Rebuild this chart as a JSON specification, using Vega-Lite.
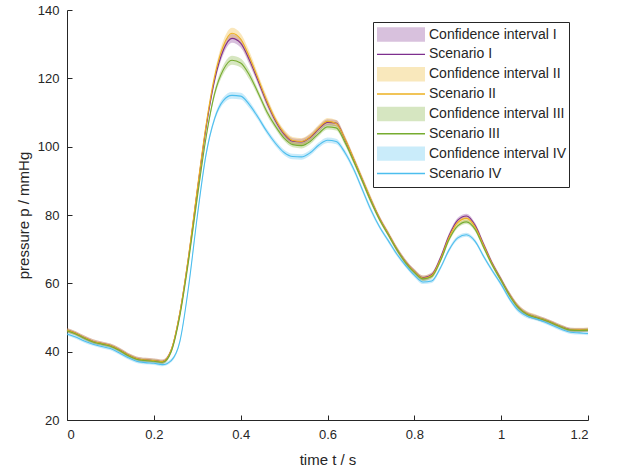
{
  "$schema": "https://vega.github.io/schema/vega-lite/v6.json",
  "width": 521,
  "height": 410,
  "autosize": {"type": "none"},
  "padding": {"left": 67, "top": 10, "right": 30, "bottom": 54},
  "background": "white",
  "datasets": {
    "names": [
      {"s": "I", "ci": "Confidence interval I", "sc": "Scenario I"},
      {"s": "II", "ci": "Confidence interval II", "sc": "Scenario II"},
      {"s": "III", "ci": "Confidence interval III", "sc": "Scenario III"},
      {"s": "IV", "ci": "Confidence interval IV", "sc": "Scenario IV"}
    ]
  },
  "data": {"values": [
{"s":"I","t":0,"p":46.3,"lo":45.7,"hi":46.9},
{"s":"I","t":0.02,"p":45.4,"lo":44.8,"hi":46.0},
{"s":"I","t":0.04,"p":44.1,"lo":43.5,"hi":44.7},
{"s":"I","t":0.06,"p":43.0,"lo":42.4,"hi":43.6},
{"s":"I","t":0.08,"p":42.4,"lo":41.8,"hi":43.0},
{"s":"I","t":0.10,"p":41.8,"lo":41.2,"hi":42.4},
{"s":"I","t":0.12,"p":40.6,"lo":40.0,"hi":41.2},
{"s":"I","t":0.14,"p":39.1,"lo":38.5,"hi":39.7},
{"s":"I","t":0.16,"p":38.0,"lo":37.4,"hi":38.6},
{"s":"I","t":0.18,"p":37.6,"lo":37.0,"hi":38.2},
{"s":"I","t":0.20,"p":37.4,"lo":36.8,"hi":38.0},
{"s":"I","t":0.22,"p":37.1,"lo":36.5,"hi":37.7},
{"s":"I","t":0.24,"p":40.4,"lo":39.8,"hi":41.0},
{"s":"I","t":0.26,"p":51.3,"lo":50.6,"hi":52.0},
{"s":"I","t":0.28,"p":67.7,"lo":67.0,"hi":68.4},
{"s":"I","t":0.30,"p":87.0,"lo":86.1,"hi":87.9},
{"s":"I","t":0.32,"p":105.3,"lo":104.4,"hi":106.2},
{"s":"I","t":0.34,"p":119.5,"lo":118.4,"hi":120.6},
{"s":"I","t":0.36,"p":128.2,"lo":126.9,"hi":129.5},
{"s":"I","t":0.38,"p":131.7,"lo":130.4,"hi":133.0},
{"s":"I","t":0.40,"p":130.3,"lo":129.0,"hi":131.6},
{"s":"I","t":0.42,"p":125.4,"lo":124.1,"hi":126.7},
{"s":"I","t":0.44,"p":119.3,"lo":118.2,"hi":120.4},
{"s":"I","t":0.46,"p":113.0,"lo":111.9,"hi":114.1},
{"s":"I","t":0.48,"p":107.6,"lo":106.7,"hi":108.5},
{"s":"I","t":0.50,"p":103.7,"lo":102.8,"hi":104.6},
{"s":"I","t":0.52,"p":101.6,"lo":100.7,"hi":102.5},
{"s":"I","t":0.54,"p":101.4,"lo":100.5,"hi":102.3},
{"s":"I","t":0.56,"p":102.7,"lo":101.8,"hi":103.6},
{"s":"I","t":0.58,"p":105.2,"lo":104.3,"hi":106.1},
{"s":"I","t":0.60,"p":107.1,"lo":106.2,"hi":108.0},
{"s":"I","t":0.62,"p":106.9,"lo":106.0,"hi":107.8},
{"s":"I","t":0.64,"p":102.2,"lo":101.3,"hi":103.1},
{"s":"I","t":0.66,"p":96.4,"lo":95.5,"hi":97.3},
{"s":"I","t":0.68,"p":90.4,"lo":89.5,"hi":91.3},
{"s":"I","t":0.70,"p":84.4,"lo":83.5,"hi":85.3},
{"s":"I","t":0.72,"p":79.0,"lo":78.3,"hi":79.7},
{"s":"I","t":0.74,"p":74.5,"lo":73.8,"hi":75.2},
{"s":"I","t":0.76,"p":70.0,"lo":69.3,"hi":70.7},
{"s":"I","t":0.78,"p":66.3,"lo":65.6,"hi":67.0},
{"s":"I","t":0.80,"p":63.5,"lo":62.8,"hi":64.2},
{"s":"I","t":0.82,"p":61.6,"lo":60.9,"hi":62.3},
{"s":"I","t":0.84,"p":62.5,"lo":61.8,"hi":63.2},
{"s":"I","t":0.86,"p":67.4,"lo":66.7,"hi":68.1},
{"s":"I","t":0.88,"p":74.0,"lo":73.3,"hi":74.7},
{"s":"I","t":0.90,"p":78.5,"lo":77.8,"hi":79.2},
{"s":"I","t":0.92,"p":79.7,"lo":79.0,"hi":80.4},
{"s":"I","t":0.94,"p":77.0,"lo":76.3,"hi":77.7},
{"s":"I","t":0.96,"p":71.3,"lo":70.6,"hi":72.0},
{"s":"I","t":0.98,"p":65.7,"lo":65.0,"hi":66.4},
{"s":"I","t":1.00,"p":61.1,"lo":60.4,"hi":61.8},
{"s":"I","t":1.02,"p":56.6,"lo":55.9,"hi":57.3},
{"s":"I","t":1.04,"p":53.0,"lo":52.3,"hi":53.7},
{"s":"I","t":1.06,"p":51.0,"lo":50.3,"hi":51.7},
{"s":"I","t":1.08,"p":50.1,"lo":49.4,"hi":50.8},
{"s":"I","t":1.10,"p":49.3,"lo":48.7,"hi":49.9},
{"s":"I","t":1.12,"p":48.3,"lo":47.7,"hi":48.9},
{"s":"I","t":1.14,"p":47.2,"lo":46.6,"hi":47.8},
{"s":"I","t":1.16,"p":46.4,"lo":45.8,"hi":47.0},
{"s":"I","t":1.18,"p":46.3,"lo":45.7,"hi":46.9},
{"s":"I","t":1.20,"p":46.4,"lo":45.8,"hi":47.0},
{"s":"II","t":0,"p":46.3,"lo":45.7,"hi":46.9},
{"s":"II","t":0.02,"p":45.4,"lo":44.8,"hi":46.0},
{"s":"II","t":0.04,"p":44.1,"lo":43.5,"hi":44.7},
{"s":"II","t":0.06,"p":43.0,"lo":42.4,"hi":43.6},
{"s":"II","t":0.08,"p":42.4,"lo":41.8,"hi":43.0},
{"s":"II","t":0.10,"p":41.8,"lo":41.2,"hi":42.4},
{"s":"II","t":0.12,"p":40.6,"lo":40.0,"hi":41.2},
{"s":"II","t":0.14,"p":39.1,"lo":38.5,"hi":39.7},
{"s":"II","t":0.16,"p":38.0,"lo":37.4,"hi":38.6},
{"s":"II","t":0.18,"p":37.6,"lo":37.0,"hi":38.2},
{"s":"II","t":0.20,"p":37.4,"lo":36.8,"hi":38.0},
{"s":"II","t":0.22,"p":37.1,"lo":36.5,"hi":37.7},
{"s":"II","t":0.24,"p":40.5,"lo":39.9,"hi":41.1},
{"s":"II","t":0.26,"p":51.5,"lo":50.7,"hi":52.3},
{"s":"II","t":0.28,"p":68.0,"lo":67.2,"hi":68.8},
{"s":"II","t":0.30,"p":87.5,"lo":86.5,"hi":88.5},
{"s":"II","t":0.32,"p":106.0,"lo":105.0,"hi":107.0},
{"s":"II","t":0.34,"p":120.5,"lo":119.2,"hi":121.8},
{"s":"II","t":0.36,"p":129.5,"lo":127.9,"hi":131.1},
{"s":"II","t":0.38,"p":133.2,"lo":131.6,"hi":134.8},
{"s":"II","t":0.40,"p":131.5,"lo":129.9,"hi":133.1},
{"s":"II","t":0.42,"p":126.3,"lo":124.7,"hi":127.9},
{"s":"II","t":0.44,"p":120.0,"lo":118.7,"hi":121.3},
{"s":"II","t":0.46,"p":113.5,"lo":112.2,"hi":114.8},
{"s":"II","t":0.48,"p":108.0,"lo":107.0,"hi":109.0},
{"s":"II","t":0.50,"p":104.0,"lo":103.0,"hi":105.0},
{"s":"II","t":0.52,"p":101.8,"lo":100.8,"hi":102.8},
{"s":"II","t":0.54,"p":101.5,"lo":100.5,"hi":102.5},
{"s":"II","t":0.56,"p":102.9,"lo":101.9,"hi":103.9},
{"s":"II","t":0.58,"p":105.5,"lo":104.5,"hi":106.5},
{"s":"II","t":0.60,"p":107.4,"lo":106.4,"hi":108.4},
{"s":"II","t":0.62,"p":106.8,"lo":105.8,"hi":107.8},
{"s":"II","t":0.64,"p":102.3,"lo":101.3,"hi":103.3},
{"s":"II","t":0.66,"p":96.5,"lo":95.5,"hi":97.5},
{"s":"II","t":0.68,"p":90.5,"lo":89.5,"hi":91.5},
{"s":"II","t":0.70,"p":84.5,"lo":83.5,"hi":85.5},
{"s":"II","t":0.72,"p":79.0,"lo":78.2,"hi":79.8},
{"s":"II","t":0.74,"p":74.5,"lo":73.7,"hi":75.3},
{"s":"II","t":0.76,"p":70.0,"lo":69.2,"hi":70.8},
{"s":"II","t":0.78,"p":66.2,"lo":65.4,"hi":67.0},
{"s":"II","t":0.80,"p":63.4,"lo":62.6,"hi":64.2},
{"s":"II","t":0.82,"p":61.5,"lo":60.7,"hi":62.3},
{"s":"II","t":0.84,"p":62.3,"lo":61.5,"hi":63.1},
{"s":"II","t":0.86,"p":67.0,"lo":66.2,"hi":67.8},
{"s":"II","t":0.88,"p":73.5,"lo":72.7,"hi":74.3},
{"s":"II","t":0.90,"p":77.8,"lo":77.0,"hi":78.6},
{"s":"II","t":0.92,"p":79.0,"lo":78.2,"hi":79.8},
{"s":"II","t":0.94,"p":76.5,"lo":75.7,"hi":77.3},
{"s":"II","t":0.96,"p":71.0,"lo":70.2,"hi":71.8},
{"s":"II","t":0.98,"p":65.5,"lo":64.7,"hi":66.3},
{"s":"II","t":1.00,"p":61.0,"lo":60.2,"hi":61.8},
{"s":"II","t":1.02,"p":56.5,"lo":55.7,"hi":57.3},
{"s":"II","t":1.04,"p":53.0,"lo":52.2,"hi":53.8},
{"s":"II","t":1.06,"p":51.0,"lo":50.2,"hi":51.8},
{"s":"II","t":1.08,"p":50.1,"lo":49.3,"hi":50.9},
{"s":"II","t":1.10,"p":49.3,"lo":48.7,"hi":49.9},
{"s":"II","t":1.12,"p":48.3,"lo":47.7,"hi":48.9},
{"s":"II","t":1.14,"p":47.2,"lo":46.6,"hi":47.8},
{"s":"II","t":1.16,"p":46.4,"lo":45.8,"hi":47.0},
{"s":"II","t":1.18,"p":46.4,"lo":45.8,"hi":47.0},
{"s":"II","t":1.20,"p":46.5,"lo":45.9,"hi":47.1},
{"s":"III","t":0,"p":46.1,"lo":45.6,"hi":46.6},
{"s":"III","t":0.02,"p":45.2,"lo":44.7,"hi":45.7},
{"s":"III","t":0.04,"p":43.9,"lo":43.4,"hi":44.4},
{"s":"III","t":0.06,"p":42.8,"lo":42.3,"hi":43.3},
{"s":"III","t":0.08,"p":42.2,"lo":41.7,"hi":42.7},
{"s":"III","t":0.10,"p":41.6,"lo":41.1,"hi":42.1},
{"s":"III","t":0.12,"p":40.4,"lo":39.9,"hi":40.9},
{"s":"III","t":0.14,"p":38.9,"lo":38.4,"hi":39.4},
{"s":"III","t":0.16,"p":37.8,"lo":37.3,"hi":38.3},
{"s":"III","t":0.18,"p":37.4,"lo":36.9,"hi":37.9},
{"s":"III","t":0.20,"p":37.2,"lo":36.7,"hi":37.7},
{"s":"III","t":0.22,"p":36.9,"lo":36.4,"hi":37.4},
{"s":"III","t":0.24,"p":40.0,"lo":39.5,"hi":40.5},
{"s":"III","t":0.26,"p":50.5,"lo":49.9,"hi":51.1},
{"s":"III","t":0.28,"p":66.5,"lo":65.9,"hi":67.1},
{"s":"III","t":0.30,"p":85.0,"lo":84.2,"hi":85.8},
{"s":"III","t":0.32,"p":102.5,"lo":101.7,"hi":103.3},
{"s":"III","t":0.34,"p":115.5,"lo":114.5,"hi":116.5},
{"s":"III","t":0.36,"p":122.5,"lo":121.2,"hi":123.8},
{"s":"III","t":0.38,"p":125.3,"lo":124.0,"hi":126.6},
{"s":"III","t":0.40,"p":124.5,"lo":123.2,"hi":125.8},
{"s":"III","t":0.42,"p":121.0,"lo":119.7,"hi":122.3},
{"s":"III","t":0.44,"p":115.8,"lo":114.8,"hi":116.8},
{"s":"III","t":0.46,"p":110.3,"lo":109.3,"hi":111.3},
{"s":"III","t":0.48,"p":106.0,"lo":105.2,"hi":106.8},
{"s":"III","t":0.50,"p":102.5,"lo":101.7,"hi":103.3},
{"s":"III","t":0.52,"p":100.6,"lo":99.8,"hi":101.4},
{"s":"III","t":0.54,"p":100.3,"lo":99.5,"hi":101.1},
{"s":"III","t":0.56,"p":101.5,"lo":100.7,"hi":102.3},
{"s":"III","t":0.58,"p":103.9,"lo":103.1,"hi":104.7},
{"s":"III","t":0.60,"p":105.8,"lo":105.0,"hi":106.6},
{"s":"III","t":0.62,"p":105.5,"lo":104.7,"hi":106.3},
{"s":"III","t":0.64,"p":101.3,"lo":100.5,"hi":102.1},
{"s":"III","t":0.66,"p":95.8,"lo":95.0,"hi":96.6},
{"s":"III","t":0.68,"p":90.0,"lo":89.2,"hi":90.8},
{"s":"III","t":0.70,"p":84.0,"lo":83.2,"hi":84.8},
{"s":"III","t":0.72,"p":78.6,"lo":78.0,"hi":79.2},
{"s":"III","t":0.74,"p":74.2,"lo":73.6,"hi":74.8},
{"s":"III","t":0.76,"p":69.8,"lo":69.2,"hi":70.4},
{"s":"III","t":0.78,"p":66.0,"lo":65.4,"hi":66.6},
{"s":"III","t":0.80,"p":63.2,"lo":62.6,"hi":63.8},
{"s":"III","t":0.82,"p":61.3,"lo":60.7,"hi":61.9},
{"s":"III","t":0.84,"p":62.0,"lo":61.4,"hi":62.6},
{"s":"III","t":0.86,"p":66.5,"lo":65.9,"hi":67.1},
{"s":"III","t":0.88,"p":72.8,"lo":72.2,"hi":73.4},
{"s":"III","t":0.90,"p":76.8,"lo":76.2,"hi":77.4},
{"s":"III","t":0.92,"p":78.0,"lo":77.4,"hi":78.6},
{"s":"III","t":0.94,"p":75.8,"lo":75.2,"hi":76.4},
{"s":"III","t":0.96,"p":70.4,"lo":69.8,"hi":71.0},
{"s":"III","t":0.98,"p":65.2,"lo":64.6,"hi":65.8},
{"s":"III","t":1.00,"p":60.8,"lo":60.2,"hi":61.4},
{"s":"III","t":1.02,"p":56.3,"lo":55.7,"hi":56.9},
{"s":"III","t":1.04,"p":52.8,"lo":52.2,"hi":53.4},
{"s":"III","t":1.06,"p":50.9,"lo":50.3,"hi":51.5},
{"s":"III","t":1.08,"p":50.0,"lo":49.4,"hi":50.6},
{"s":"III","t":1.10,"p":49.2,"lo":48.7,"hi":49.7},
{"s":"III","t":1.12,"p":48.2,"lo":47.7,"hi":48.7},
{"s":"III","t":1.14,"p":47.1,"lo":46.6,"hi":47.6},
{"s":"III","t":1.16,"p":46.3,"lo":45.8,"hi":46.8},
{"s":"III","t":1.18,"p":46.2,"lo":45.7,"hi":46.7},
{"s":"III","t":1.20,"p":46.3,"lo":45.8,"hi":46.8},
{"s":"IV","t":0,"p":45.2,"lo":44.7,"hi":45.7},
{"s":"IV","t":0.02,"p":44.3,"lo":43.8,"hi":44.8},
{"s":"IV","t":0.04,"p":43.1,"lo":42.6,"hi":43.6},
{"s":"IV","t":0.06,"p":42.2,"lo":41.7,"hi":42.7},
{"s":"IV","t":0.08,"p":41.5,"lo":41.0,"hi":42.0},
{"s":"IV","t":0.10,"p":40.9,"lo":40.4,"hi":41.4},
{"s":"IV","t":0.12,"p":39.7,"lo":39.2,"hi":40.2},
{"s":"IV","t":0.14,"p":38.3,"lo":37.8,"hi":38.8},
{"s":"IV","t":0.16,"p":37.2,"lo":36.7,"hi":37.7},
{"s":"IV","t":0.18,"p":36.8,"lo":36.3,"hi":37.3},
{"s":"IV","t":0.20,"p":36.6,"lo":36.1,"hi":37.1},
{"s":"IV","t":0.22,"p":36.2,"lo":35.7,"hi":36.7},
{"s":"IV","t":0.24,"p":37.4,"lo":36.9,"hi":37.9},
{"s":"IV","t":0.26,"p":43.0,"lo":42.5,"hi":43.5},
{"s":"IV","t":0.28,"p":59.0,"lo":58.4,"hi":59.6},
{"s":"IV","t":0.30,"p":79.5,"lo":78.9,"hi":80.1},
{"s":"IV","t":0.32,"p":97.5,"lo":96.7,"hi":98.3},
{"s":"IV","t":0.34,"p":108.2,"lo":107.4,"hi":109.0},
{"s":"IV","t":0.36,"p":113.5,"lo":112.5,"hi":114.5},
{"s":"IV","t":0.38,"p":115.0,"lo":114.0,"hi":116.0},
{"s":"IV","t":0.40,"p":114.8,"lo":113.8,"hi":115.8},
{"s":"IV","t":0.42,"p":112.3,"lo":111.3,"hi":113.3},
{"s":"IV","t":0.44,"p":108.6,"lo":107.8,"hi":109.4},
{"s":"IV","t":0.46,"p":104.5,"lo":103.7,"hi":105.3},
{"s":"IV","t":0.48,"p":101.0,"lo":100.2,"hi":101.8},
{"s":"IV","t":0.50,"p":98.3,"lo":97.5,"hi":99.1},
{"s":"IV","t":0.52,"p":97.1,"lo":96.3,"hi":97.9},
{"s":"IV","t":0.54,"p":97.0,"lo":96.2,"hi":97.8},
{"s":"IV","t":0.56,"p":98.2,"lo":97.4,"hi":99.0},
{"s":"IV","t":0.58,"p":100.5,"lo":99.7,"hi":101.3},
{"s":"IV","t":0.60,"p":101.9,"lo":101.1,"hi":102.7},
{"s":"IV","t":0.62,"p":101.5,"lo":100.7,"hi":102.3},
{"s":"IV","t":0.64,"p":98.3,"lo":97.5,"hi":99.1},
{"s":"IV","t":0.66,"p":93.5,"lo":92.7,"hi":94.3},
{"s":"IV","t":0.68,"p":87.5,"lo":86.7,"hi":88.3},
{"s":"IV","t":0.70,"p":81.5,"lo":80.7,"hi":82.3},
{"s":"IV","t":0.72,"p":76.5,"lo":75.9,"hi":77.1},
{"s":"IV","t":0.74,"p":72.5,"lo":71.9,"hi":73.1},
{"s":"IV","t":0.76,"p":68.5,"lo":67.9,"hi":69.1},
{"s":"IV","t":0.78,"p":65.2,"lo":64.6,"hi":65.8},
{"s":"IV","t":0.80,"p":62.4,"lo":61.8,"hi":63.0},
{"s":"IV","t":0.82,"p":60.4,"lo":59.8,"hi":61.0},
{"s":"IV","t":0.84,"p":60.7,"lo":60.1,"hi":61.3},
{"s":"IV","t":0.86,"p":64.5,"lo":63.9,"hi":65.1},
{"s":"IV","t":0.88,"p":69.8,"lo":69.2,"hi":70.4},
{"s":"IV","t":0.90,"p":73.3,"lo":72.7,"hi":73.9},
{"s":"IV","t":0.92,"p":74.2,"lo":73.6,"hi":74.8},
{"s":"IV","t":0.94,"p":72.3,"lo":71.7,"hi":72.9},
{"s":"IV","t":0.96,"p":67.8,"lo":67.2,"hi":68.4},
{"s":"IV","t":0.98,"p":63.6,"lo":63.0,"hi":64.2},
{"s":"IV","t":1.00,"p":59.7,"lo":59.1,"hi":60.3},
{"s":"IV","t":1.02,"p":55.3,"lo":54.7,"hi":55.9},
{"s":"IV","t":1.04,"p":52.0,"lo":51.4,"hi":52.6},
{"s":"IV","t":1.06,"p":50.4,"lo":49.8,"hi":51.0},
{"s":"IV","t":1.08,"p":49.6,"lo":49.1,"hi":50.1},
{"s":"IV","t":1.10,"p":48.7,"lo":48.2,"hi":49.2},
{"s":"IV","t":1.12,"p":47.6,"lo":47.1,"hi":48.1},
{"s":"IV","t":1.14,"p":46.5,"lo":46.0,"hi":47.0},
{"s":"IV","t":1.16,"p":45.7,"lo":45.2,"hi":46.2},
{"s":"IV","t":1.18,"p":45.5,"lo":45.0,"hi":46.0},
{"s":"IV","t":1.20,"p":45.3,"lo":44.8,"hi":45.8}
  ]},
  "transform": [
    {"lookup": "s", "from": {"data": {"name": "names"}, "key": "s", "fields": ["ci", "sc"]}}
  ],
  "encoding": {
    "x": {
      "field": "t", "type": "quantitative",
      "scale": {"domain": [0, 1.2], "nice": false, "zero": false},
      "axis": {"title": "time t / s", "values": [0, 0.2, 0.4, 0.6, 0.8, 1, 1.2], "format": "~g", "titlePadding": 11}
    }
  },
  "resolve": {"scale": {"color": "independent", "shape": "independent"}, "legend": {"color": "independent", "shape": "independent"}},
  "layer": [
    {
      "mark": {"type": "area", "opacity": 0.3, "interpolate": "monotone"},
      "encoding": {
        "y": {
          "field": "lo", "type": "quantitative",
          "scale": {"domain": [20, 140], "nice": false, "zero": false},
          "axis": {"title": "pressure p / mmHg", "values": [20, 40, 60, 80, 100, 120, 140], "titlePadding": 6}
        },
        "y2": {"field": "hi"},
        "color": {
          "field": "ci", "type": "nominal",
          "scale": {
            "domain": ["Confidence interval I", "Confidence interval II", "Confidence interval III", "Confidence interval IV"],
            "range": ["#7E2F8E", "#EDB120", "#77AC30", "#4DBEEE"]
          },
          "legend": null
        }
      }
    },
    {
      "mark": {"type": "line", "strokeWidth": 1.1, "interpolate": "monotone"},
      "encoding": {
        "y": {"field": "p", "type": "quantitative"},
        "color": {
          "field": "sc", "type": "nominal",
          "scale": {
            "domain": ["Scenario I", "Scenario II", "Scenario III", "Scenario IV"],
            "range": ["#7E2F8E", "#EDB120", "#77AC30", "#4DBEEE"]
          },
          "legend": null
        }
      }
    },
    {
      "transform": [{"fold": ["ci", "sc"], "as": ["kind", "key"]}],
      "mark": {"type": "point", "filled": true, "opacity": 0, "size": 1},
      "encoding": {
        "y": {"field": "p", "type": "quantitative"},
        "color": {
          "field": "key", "type": "nominal",
          "scale": {
            "domain": ["Confidence interval I", "Scenario I", "Confidence interval II", "Scenario II", "Confidence interval III", "Scenario III", "Confidence interval IV", "Scenario IV"],
            "range": ["#d8c1dd", "#7E2F8E", "#f9e8bc", "#EDB120", "#d6e6c1", "#77AC30", "#caecfa", "#4DBEEE"]
          },
          "legend": {
            "title": null,
            "orient": "none",
            "legendX": 306,
            "legendY": 12,
            "padding": 3,
            "strokeColor": "#262626",
            "fillColor": "white",
            "symbolSize": 2304,
            "symbolOffset": 1,
            "symbolOpacity": 1,
            "symbolStrokeWidth": 0,
            "clipHeight": 19,
            "rowPadding": 0.86,
            "labelOffset": 4,
            "labelFont": "Liberation Sans",
            "labelFontSize": 14,
            "labelColor": "#262626",
            "labelLimit": 400
          }
        },
        "shape": {
          "field": "key", "type": "nominal",
          "scale": {
            "domain": ["Confidence interval I", "Scenario I", "Confidence interval II", "Scenario II", "Confidence interval III", "Scenario III", "Confidence interval IV", "Scenario IV"],
            "range": ["M-1,-0.3H1V0.3H-1Z", "M-1,-0.03H1V0.03H-1Z", "M-1,-0.3H1V0.3H-1Z", "M-1,-0.03H1V0.03H-1Z", "M-1,-0.3H1V0.3H-1Z", "M-1,-0.03H1V0.03H-1Z", "M-1,-0.3H1V0.3H-1Z", "M-1,-0.03H1V0.03H-1Z"]
          },
          "legend": {
            "title": null,
            "orient": "none",
            "legendX": 306,
            "legendY": 12,
            "padding": 3,
            "strokeColor": "#262626",
            "fillColor": "white",
            "symbolSize": 2304,
            "symbolOffset": 1,
            "symbolOpacity": 1,
            "symbolStrokeWidth": 0,
            "clipHeight": 19,
            "rowPadding": 0.86,
            "labelOffset": 4,
            "labelFont": "Liberation Sans",
            "labelFontSize": 14,
            "labelColor": "#262626",
            "labelLimit": 400
          }
        }
      }
    }
  ],
  "config": {
    "view": {"stroke": null},
    "font": "Liberation Sans",
    "axis": {
      "grid": false,
      "domainColor": "#262626",
      "tickColor": "#262626",
      "labelColor": "#262626",
      "titleColor": "#262626",
      "labelFont": "Liberation Sans",
      "titleFont": "Liberation Sans",
      "labelFontSize": 13,
      "titleFontSize": 15,
      "titleFontWeight": "normal",
      "tickSize": -5,
      "labelPadding": 13
    }
  }
}
